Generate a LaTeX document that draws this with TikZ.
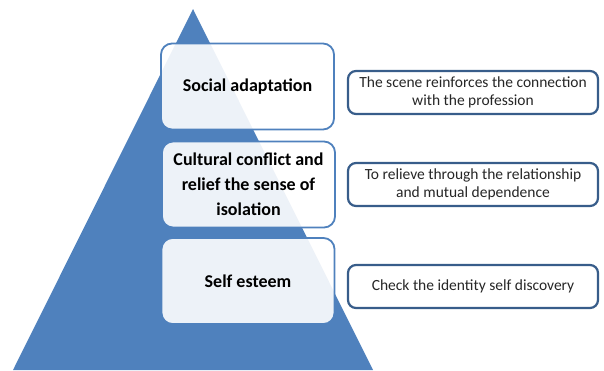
\documentclass[tikz,border=0pt]{standalone}
\usepackage{fontspec}
\setmainfont{Carlito}
\usepackage{xcolor}
\definecolor{pyramidblue}{HTML}{4F81BD}
\definecolor{frameblue}{HTML}{385D8A}

\begin{document}
\begin{tikzpicture}[
    x=1pt, y=-1pt,
    level/.style={rectangle, rounded corners=11pt, draw=pyramidblue, line width=1.8pt, fill=white, fill opacity=0.9, text opacity=1, minimum width=173pt, minimum height=86pt, align=center, font=\fontsize{18}{25}\selectfont\bfseries},
    note/.style={rectangle, rounded corners=8pt, draw=frameblue, line width=2.2pt, fill=white, minimum width=250pt, minimum height=43pt, align=center, font=\fontsize{15.5}{18}\selectfont, text=black!85}
]
    \useasboundingbox (0,0) rectangle (604,370);

    % Pyramid
    \coordinate (apex) at (193,9);
    \coordinate (base_left) at (13,370);
    \coordinate (base_right) at (373,370);
    \fill [pyramidblue] (apex) -- (base_left) -- (base_right) -- cycle;

    % Level 1
    \node [level] (social) at (247.5,86.5) {Social adaptation};
    \node [note] (profession) at (473,92.5) {The scene reinforces the connection\\with the profession};

    % Level 2
    \node [level] (cultural) at (248.5,184.5) {Cultural conflict and\\relief the sense of\\isolation};
    \node [note] (relieve) at (473,184.5) {To relieve through the relationship\\and mutual dependence};

    % Level 3
    \node [level] (esteem) at (248,281) {Self esteem};
    \node [note] (identity) at (473,286.5) {Check the identity self discovery};
\end{tikzpicture}
\end{document}
